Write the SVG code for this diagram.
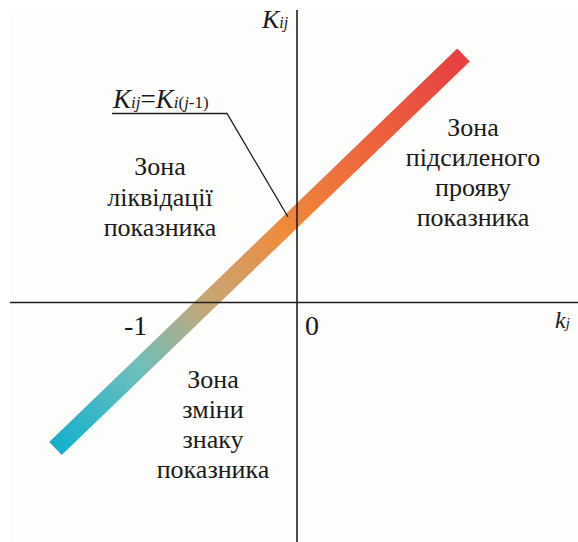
<svg xmlns="http://www.w3.org/2000/svg" width="578" height="542" viewBox="0 0 578 542">
<defs>
<linearGradient id="barGrad" gradientUnits="userSpaceOnUse" x1="55.5" y1="448.5" x2="463.5" y2="55">
<stop offset="0" stop-color="#12b0cd"/>
<stop offset="0.2" stop-color="#6cbfbc"/>
<stop offset="0.37" stop-color="#c6a676"/>
<stop offset="0.56" stop-color="#f08a3a"/>
<stop offset="0.78" stop-color="#ec623c"/>
<stop offset="1" stop-color="#e63f42"/>
</linearGradient>
<style>
.axis{stroke:#1e1e1e;stroke-width:1.6;fill:none}
.lead{stroke:#1e1e1e;stroke-width:1.3;fill:none}
.zone{font-family:"Liberation Serif","Times New Roman",serif;font-size:26px;fill:#1a1a1a;text-anchor:middle}
.lbl{font-family:"Liberation Serif","Times New Roman",serif;fill:#1a1a1a}
.it{font-style:italic}
</style>
</defs>
<rect x="0" y="0" width="578" height="542" fill="#ffffff"/>
<rect x="10" y="9" width="568" height="533" fill="#fdfdfb"/>
<g id="bar">
<line x1="55.5" y1="448.5" x2="463.5" y2="55" stroke="url(#barGrad)" stroke-width="18"/>
</g>
<g id="axes">
<line class="axis" x1="297" y1="10" x2="297" y2="542"/>
<line class="axis" x1="10" y1="302.5" x2="578" y2="302.5"/>
</g>
<g id="connectors">
<polyline class="lead" points="112,113.5 227,113.5 288,217"/>
</g>
<g id="formula-label">
<text class="lbl it" x="113" y="108" font-size="27">K<tspan font-size="17">ij</tspan><tspan font-style="normal">=</tspan>K<tspan font-size="17">i</tspan><tspan font-size="17" font-style="normal">(</tspan><tspan font-size="17">j</tspan><tspan font-size="17" font-style="normal">-1)</tspan></text>
</g>
<g id="axis-labels">
<text class="lbl it" x="262" y="28" font-size="26">K<tspan font-size="16">ij</tspan></text>
<text class="lbl it" x="555" y="328" font-size="24">k<tspan font-size="15">j</tspan></text>
<text class="lbl" x="124" y="335" font-size="28">-1</text>
<text class="lbl" x="305" y="335" font-size="28">0</text>
</g>
<g id="zone-liquidation">
<text class="zone" x="160" y="175">Зона</text>
<text class="zone" x="160" y="206">ліквідації</text>
<text class="zone" x="160" y="236">показника</text>
</g>
<g id="zone-amplified">
<text class="zone" x="473" y="136">Зона</text>
<text class="zone" x="473" y="166">підсиленого</text>
<text class="zone" x="473" y="196">прояву</text>
<text class="zone" x="473" y="226">показника</text>
</g>
<g id="zone-sign-change">
<text class="zone" x="213" y="388">Зона</text>
<text class="zone" x="213" y="418">зміни</text>
<text class="zone" x="213" y="448">знаку</text>
<text class="zone" x="213" y="478">показника</text>
</g>
</svg>
